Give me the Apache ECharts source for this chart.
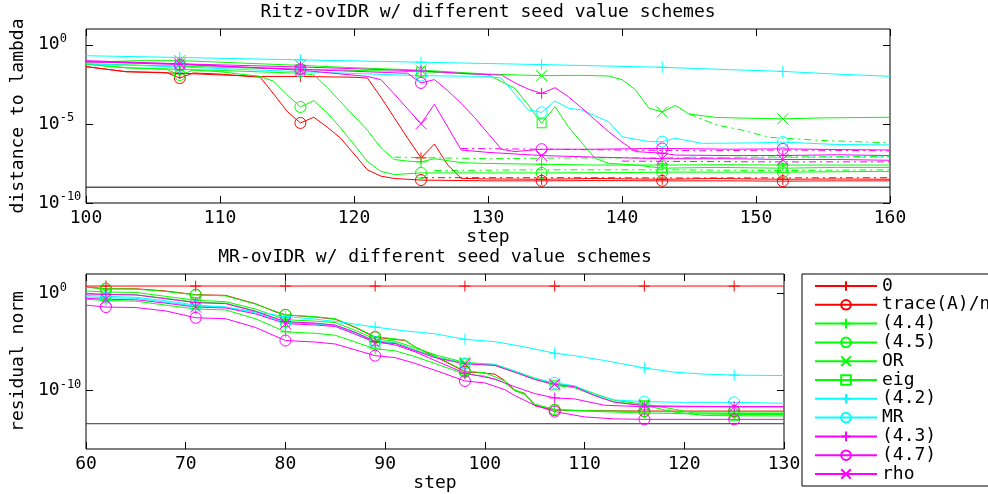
<!DOCTYPE html>
<html><head><meta charset="utf-8">
<script src="https://cdn.jsdelivr.net/npm/echarts@6/dist/echarts.min.js"></script>
<style>html,body{margin:0;padding:0;background:#fff}#c{width:988px;height:494px}</style>
</head><body><div id="c"></div><script>
const FONT = 'DejaVu Sans Mono';
const RED = '#ff0000', GREEN = '#00ff00', CYAN = '#00ffff', MAGENTA = '#ff00ff';

// legend / series identity
const legendNames = ['0', 'trace(A)/n', '(4.4)', '(4.5)', 'OR', 'eig', '(4.2)', 'MR', '(4.3)', '(4.7)', 'rho'];
const legendColors = [RED, RED, GREEN, GREEN, GREEN, GREEN, CYAN, CYAN, MAGENTA, MAGENTA, MAGENTA];
const legendSymbols = ['plus', 'circle', 'plus', 'circle', 'cross', 'square', 'plus', 'circle', 'plus', 'circle', 'cross'];

// axis ticks
const ritzXTicks = [100, 110, 120, 130, 140, 150, 160];
const ritzYTicks = [-10, -5, 0];      // log10 of distance
const mrXTicks = [60, 70, 80, 90, 100, 110, 120, 130];
const mrYTicks = [-10, 0];            // log10 of residual norm
const ritzMarkerSteps = [107, 116, 125, 134, 143, 152];
const mrMarkerSteps = [62, 71, 80, 89, 98, 107, 116, 125];

// ---- Ritz-ovIDR: [step, log10(distance to lambda)] ----
const ritz_zero = [[100,-1.38],[103,-1.7],[107,-1.8],[113,-2.0],[116,-2.0],[120,-2.05],[121,-2.1],[122,-3.3],[123,-4.6],[124,-5.9],[125,-7.15],[126,-6.27],[127,-7.6],[128,-8.44],[130,-8.48],[134,-8.5],[138,-8.45],[143,-8.5],[147,-8.45],[152,-8.5],[156,-8.48],[160,-8.5]];
const ritz_trace = [[100,-1.38],[103,-1.7],[106,-1.75],[107,-2.1],[108,-1.78],[110,-1.85],[113,-2.05],[114,-3.1],[115,-4.2],[116,-4.94],[117,-4.58],[118,-5.2],[119,-5.9],[120,-6.9],[121,-7.9],[122,-8.3],[123,-8.45],[125,-8.55],[130,-8.6],[134,-8.6],[138,-8.58],[143,-8.6],[148,-8.6],[152,-8.62],[156,-8.6],[160,-8.6]];
const ritz_44 = [[100,-1.23],[103,-1.45],[107,-1.55],[110,-1.62],[116,-1.8],[117,-1.9],[118,-2.7],[119,-3.6],[120,-4.5],[121,-5.4],[122,-6.5],[123,-7.25],[124,-7.35],[125,-7.4],[126,-7.2],[128,-7.45],[130,-7.5],[134,-7.55],[138,-7.6],[143,-7.6],[148,-7.58],[152,-7.6],[156,-7.6],[160,-7.6]];
const ritz_45 = [[100,-1.23],[103,-1.45],[106,-1.55],[107,-1.91],[108,-1.6],[110,-1.7],[113,-2.0],[114,-2.3],[115,-3.15],[116,-3.93],[117,-3.53],[118,-4.3],[119,-5.26],[120,-6.3],[121,-7.37],[122,-8.0],[123,-8.2],[125,-8.1],[130,-8.1],[134,-8.1],[140,-8.08],[143,-8.05],[148,-8.05],[152,-8.05],[160,-8.0]];
const ritz_OR = [[100,-1.1],[104,-1.0],[107,-1.0],[110,-1.1],[116,-1.3],[120,-1.45],[125,-1.6],[130,-1.85],[134,-1.95],[137,-1.93],[139,-1.97],[140,-2.2],[141,-2.84],[142,-4.0],[143,-4.25],[144,-3.83],[145,-4.37],[147,-4.59],[150,-4.65],[152,-4.68],[155,-4.62],[160,-4.58]];
const ritz_eig = [[100,-1.2],[107,-1.35],[116,-1.55],[125,-1.7],[130,-1.89],[132,-2.75],[133,-3.8],[134,-4.96],[135,-3.91],[136,-5.18],[137,-6.2],[138,-7.18],[139,-7.49],[141,-7.6],[143,-7.8],[147,-7.75],[152,-7.8],[156,-7.75],[160,-7.75]];
const ritz_42 = [[100,-0.69],[107,-0.8],[116,-0.95],[125,-1.1],[134,-1.25],[143,-1.42],[148,-1.57],[152,-1.68],[156,-1.85],[160,-1.99]];
const ritz_MR = [[100,-1.2],[107,-1.4],[116,-1.7],[125,-1.95],[130,-2.0],[131,-2.1],[132,-3.1],[133,-4.12],[134,-4.27],[135,-3.55],[136,-4.01],[137,-4.12],[138,-4.5],[139,-4.86],[140,-5.81],[142,-6.12],[143,-6.12],[144,-5.91],[146,-6.23],[150,-6.2],[152,-6.15],[156,-6.3],[160,-6.33]];
const ritz_43 = [[100,-1.07],[107,-1.2],[116,-1.4],[125,-1.65],[129,-1.85],[131,-1.91],[132,-2.4],[133,-2.8],[134,-3.07],[135,-2.71],[136,-3.28],[137,-4.0],[138,-4.75],[139,-5.49],[140,-6.15],[141,-6.75],[143,-6.85],[144,-6.97],[148,-7.0],[152,-7.0],[156,-6.95],[160,-7.0]];
const ritz_47 = [[100,-1.07],[107,-1.25],[116,-1.55],[124,-1.8],[125,-2.41],[126,-2.2],[127,-2.9],[128,-3.7],[129,-4.6],[130,-5.6],[131,-6.6],[132,-6.75],[134,-6.6],[138,-6.6],[143,-6.55],[148,-6.6],[152,-6.58],[156,-6.62],[160,-6.65]];
const ritz_rho = [[100,-1.0],[107,-1.2],[116,-1.6],[121,-2.0],[122,-2.2],[123,-3.1],[124,-4.05],[125,-4.99],[126,-3.76],[127,-5.2],[128,-6.65],[130,-6.8],[134,-7.0],[138,-7.1],[143,-7.2],[148,-7.2],[152,-7.25],[156,-7.25],[160,-7.3]];
// secondary (dash-dot) Ritz curves
const ritz_OR_b = [[145,-4.37],[147,-5.05],[149,-5.4],[151,-5.85],[152,-5.9],[155,-6.05],[160,-6.2]];
const ritz_mag_b = [[128,-6.55],[134,-6.6],[140,-6.65],[146,-6.7],[152,-6.65],[160,-6.7]];
const ritz_grn_b = [[123,-7.1],[130,-7.2],[136,-7.15],[142,-7.15],[150,-7.1],[160,-7.05]];
const ritz_cyan_b = [[145,-7.1],[150,-7.15],[155,-7.1],[160,-7.1]];
const ritz_grn_c = [[126,-7.95],[134,-7.9],[143,-7.9],[152,-7.95],[160,-7.9]];
const ritz_red_b = [[125,-8.4],[135,-8.4],[145,-8.42],[160,-8.4]];
const ritz_mag_c = [[140,-7.35],[150,-7.4],[160,-7.4]];
const ritz_ref = [[100,-9],[160,-9]];

// ---- MR-ovIDR: [step, log10(residual norm)] ----
const mr_zero = [[60,0.76],[62,0.76],[71,0.76],[80,0.76],[89,0.76],[98,0.76],[107,0.76],[116,0.76],[125,0.76],[130,0.76]];
const mr_trace = [[60,0.66],[62,0.48],[65,0.48],[68,0.25],[71,-0.13],[74,-0.2],[77,-1.06],[79,-1.9],[80,-2.2],[83,-2.43],[85,-2.65],[87,-3.5],[89,-4.5],[92,-4.84],[93,-5.5],[95,-6.5],[96,-7.0],[98,-8.05],[100,-8.2],[101,-8.3],[102,-8.97],[103,-10.0],[104,-10.27],[105,-11.55],[107,-12.0],[110,-12.05],[116,-12.1],[125,-12.1],[130,-12.1]];
const mr_44 = [[60,-0.6],[62,-0.72],[65,-0.8],[68,-1.2],[71,-1.6],[74,-1.7],[77,-2.6],[80,-3.95],[83,-4.1],[85,-4.3],[87,-5.0],[89,-5.7],[91,-5.9],[93,-6.5],[95,-7.2],[98,-8.3],[100,-8.5],[102,-9.2],[103,-10.0],[104,-10.4],[105,-11.4],[107,-11.95],[110,-12.1],[116,-12.3],[125,-12.45],[130,-12.45]];
const mr_45 = [[60,0.62],[62,0.48],[65,0.45],[68,0.2],[71,-0.15],[74,-0.25],[77,-1.1],[80,-2.2],[83,-2.4],[85,-2.6],[87,-3.45],[89,-4.45],[92,-4.8],[93,-5.5],[95,-6.4],[98,-8.0],[100,-8.15],[102,-9.0],[103,-9.9],[104,-10.3],[105,-11.4],[107,-11.95],[110,-12.05],[116,-12.15],[125,-12.2],[130,-12.2]];
const mr_OR = [[60,0.25],[62,0.14],[65,0.1],[68,-0.3],[71,-0.7],[74,-0.85],[77,-1.6],[80,-2.7],[83,-2.85],[85,-3.0],[87,-3.8],[89,-4.7],[91,-4.9],[93,-5.6],[95,-6.3],[98,-7.1],[101,-7.3],[103,-8.0],[105,-8.7],[107,-9.3],[109,-9.55],[111,-10.3],[113,-11.0],[116,-11.4],[119,-11.9],[121,-12.3],[125,-12.35],[130,-12.35]];
const mr_eig = [[60,0.0],[62,-0.1],[65,-0.15],[68,-0.5],[71,-0.9],[74,-1.0],[77,-1.8],[80,-2.95],[83,-3.1],[85,-3.3],[87,-4.0],[89,-4.9],[91,-5.05],[93,-5.8],[95,-6.5],[98,-7.18],[101,-7.4],[103,-8.1],[105,-8.8],[107,-9.45],[109,-9.7],[111,-10.5],[113,-11.15],[116,-11.5],[119,-12.2],[122,-12.55],[125,-12.58],[130,-12.6]];
const mr_42 = [[60,-0.2],[62,-0.3],[65,-0.4],[68,-0.75],[71,-1.2],[74,-1.4],[77,-1.9],[80,-2.37],[83,-2.65],[86,-3.0],[89,-3.46],[92,-3.85],[95,-4.15],[98,-4.72],[101,-4.96],[104,-5.5],[107,-6.15],[109,-6.4],[112,-6.9],[116,-7.66],[119,-8.1],[122,-8.3],[125,-8.4],[130,-8.45]];
const mr_MR = [[60,-0.35],[62,-0.45],[65,-0.5],[68,-0.9],[71,-1.3],[74,-1.4],[77,-2.0],[80,-3.0],[83,-3.15],[85,-3.3],[87,-4.1],[89,-5.0],[91,-5.1],[93,-5.85],[95,-6.55],[98,-7.2],[101,-7.3],[103,-8.0],[105,-8.75],[107,-9.2],[109,-9.5],[111,-10.4],[113,-10.95],[116,-11.13],[120,-11.2],[125,-11.2],[130,-11.3]];
const mr_43 = [[60,-0.05],[62,-0.1],[65,-0.15],[68,-0.55],[71,-0.95],[74,-1.05],[77,-1.85],[80,-2.9],[83,-3.05],[85,-3.25],[87,-4.0],[89,-4.95],[91,-5.3],[93,-6.0],[95,-6.9],[98,-8.2],[101,-8.8],[103,-9.6],[105,-10.3],[107,-10.75],[109,-10.85],[112,-11.5],[116,-11.65],[125,-11.65],[130,-11.65]];
const mr_47 = [[60,-1.2],[62,-1.4],[65,-1.45],[68,-1.8],[71,-2.5],[74,-2.6],[77,-3.5],[80,-4.84],[83,-5.0],[85,-5.2],[87,-5.8],[89,-6.4],[91,-6.6],[93,-7.2],[95,-7.9],[98,-9.0],[100,-9.2],[102,-9.9],[103,-10.5],[105,-11.5],[107,-12.15],[110,-12.7],[113,-12.9],[116,-12.95],[125,-12.95],[130,-12.95]];
const mr_rho = [[60,-0.5],[62,-0.6],[65,-0.65],[68,-1.0],[71,-1.4],[74,-1.5],[77,-2.1],[80,-3.1],[83,-3.25],[85,-3.4],[87,-4.2],[89,-5.05],[91,-5.15],[93,-5.9],[95,-6.6],[98,-7.25],[101,-7.4],[103,-8.1],[105,-8.85],[107,-9.35],[109,-9.6],[111,-10.5],[113,-11.2],[116,-11.55],[120,-11.6],[125,-11.65],[130,-11.65]];
const mr_ref = [[60,-13.4],[130,-13.4]];

const ritzSets = [ritz_zero, ritz_trace, ritz_44, ritz_45, ritz_OR, ritz_eig, ritz_42, ritz_MR, ritz_43, ritz_47, ritz_rho];
const mrSets = [mr_zero, mr_trace, mr_44, mr_45, mr_OR, mr_eig, mr_42, mr_MR, mr_43, mr_47, mr_rho];

const SYM = {
  plus: 'path://M5,0L5,10M0,5L10,5',
  cross: 'path://M0,0L10,10M10,0L0,10',
  circle: 'circle',
  square: 'rect'
};

function mainSeries(name, data, color, symKey, axisIdx, markers) {
  return {
    type: 'line', name: name, xAxisIndex: axisIdx, yAxisIndex: axisIdx,
    data: data.map(p => markers.indexOf(p[0]) >= 0 ? { value: p } : { value: p, symbol: 'none' }),
    symbol: SYM[symKey], symbolSize: symKey === 'square' ? 9 : 11, showSymbol: true,
    lineStyle: { color: color, width: 1 },
    itemStyle: { color: 'rgba(0,0,0,0)', borderColor: color, borderWidth: 1 },
    emphasis: { disabled: true }, silent: true, animation: false
  };
}
function extraSeries(data, color, axisIdx, dash) {
  return {
    type: 'line', name: '_x', xAxisIndex: axisIdx, yAxisIndex: axisIdx,
    data: data, symbol: 'none',
    lineStyle: { color: color, width: 1, type: dash },
    emphasis: { disabled: true }, silent: true, animation: false
  };
}

const series = [];
series.push(extraSeries(ritz_ref, '#000', 0, 'solid'));
series.push(extraSeries(mr_ref, '#333', 2, 'solid'));
const DD = [7, 4, 2, 4];
series.push(extraSeries(ritz_OR_b, GREEN, 0, DD));
series.push(extraSeries(ritz_mag_b, MAGENTA, 0, DD));
series.push(extraSeries(ritz_grn_b, GREEN, 0, DD));
series.push(extraSeries(ritz_cyan_b, CYAN, 0, DD));
series.push(extraSeries(ritz_grn_c, GREEN, 0, DD));
series.push(extraSeries(ritz_mag_c, MAGENTA, 0, DD));
series.push(extraSeries(ritz_red_b, RED, 0, DD));
legendNames.forEach((n, i) => {
  series.push(mainSeries(n, ritzSets[i], legendColors[i], legendSymbols[i], 0, ritzMarkerSteps));
  series.push(mainSeries(n, mrSets[i], legendColors[i], legendSymbols[i], 2, mrMarkerSteps));
});

const txt = { fontFamily: FONT, fontSize: 18, color: '#000' };
function xAx(grid, ticks, pos, labels) {
  return {
    type: 'value', gridIndex: grid, min: ticks[0], max: ticks[ticks.length - 1], interval: 10, position: pos,
    axisLine: { show: false, onZero: false }, splitLine: { show: false },
    axisTick: { show: true, inside: true, length: 7, lineStyle: { color: '#000', width: 1 } },
    axisLabel: Object.assign({ show: labels, margin: 6, formatter: v => String(v) }, txt),
    name: labels ? 'step' : '', nameLocation: 'middle', nameGap: 24, nameTextStyle: txt
  };
}
function yAx(grid, min, max, ticks, pos, labels, name) {
  return {
    type: 'value', gridIndex: grid, min: min, max: max, position: pos,
    axisLine: { show: false, onZero: false }, splitLine: { show: false },
    axisTick: { show: true, inside: true, length: 7, customValues: ticks, lineStyle: { color: '#000', width: 1 } },
    axisLabel: {
      show: labels, customValues: ticks, align: 'left', margin: 48,
      formatter: v => '{b|10}{s|' + (v === 0 ? '0' : String(v)) + '}',
      rich: {
        b: { fontFamily: FONT, fontSize: 18, color: '#000', lineHeight: 24 },
        s: { fontFamily: FONT, fontSize: 12, color: '#000', lineHeight: 12, verticalAlign: 'top' }
      }
    },
    name: name, nameLocation: 'middle', nameGap: 54, nameTextStyle: txt
  };
}

const option = {
  animation: false,
  backgroundColor: '#fff',
  title: [
    { text: 'Ritz-ovIDR w/ different seed value schemes', left: 488, top: 3, textAlign: 'center', padding: 0,
      textStyle: Object.assign({ fontWeight: 'normal' }, txt) },
    { text: 'MR-ovIDR w/ different seed value schemes', left: 435, top: 248, textAlign: 'center', padding: 0,
      textStyle: Object.assign({ fontWeight: 'normal' }, txt) }
  ],
  legend: {
    data: legendNames, orient: 'vertical', left: 802, top: 274,
    padding: [3, 12, 3, 12], itemWidth: 62, itemHeight: 12, itemGap: 0.8,
    borderColor: '#000', borderWidth: 1, selectedMode: false,
    textStyle: { fontFamily: FONT, fontSize: 18, color: '#000', lineHeight: 18 }
  },
  grid: [
    { left: 86, top: 29, width: 804, height: 174, show: true, borderColor: '#000', borderWidth: 1, backgroundColor: 'rgba(0,0,0,0)', outerBoundsMode: 'none' },
    { left: 86, top: 274, width: 698, height: 175, show: true, borderColor: '#000', borderWidth: 1, backgroundColor: 'rgba(0,0,0,0)', outerBoundsMode: 'none' }
  ],
  xAxis: [
    xAx(0, ritzXTicks, 'bottom', true), xAx(0, ritzXTicks, 'top', false),
    xAx(1, mrXTicks, 'bottom', true), xAx(1, mrXTicks, 'top', false)
  ],
  yAxis: [
    yAx(0, -10, 1, ritzYTicks, 'left', true, 'distance to lambda'), yAx(0, -10, 1, ritzYTicks, 'right', false, ''),
    yAx(1, -16, 2, mrYTicks, 'left', true, 'residual norm'), yAx(1, -16, 2, mrYTicks, 'right', false, '')
  ],
  series: series
};
const chart = echarts.init(document.getElementById('c'), null, { renderer: 'canvas' });
chart.setOption(option);
</script></body></html>
